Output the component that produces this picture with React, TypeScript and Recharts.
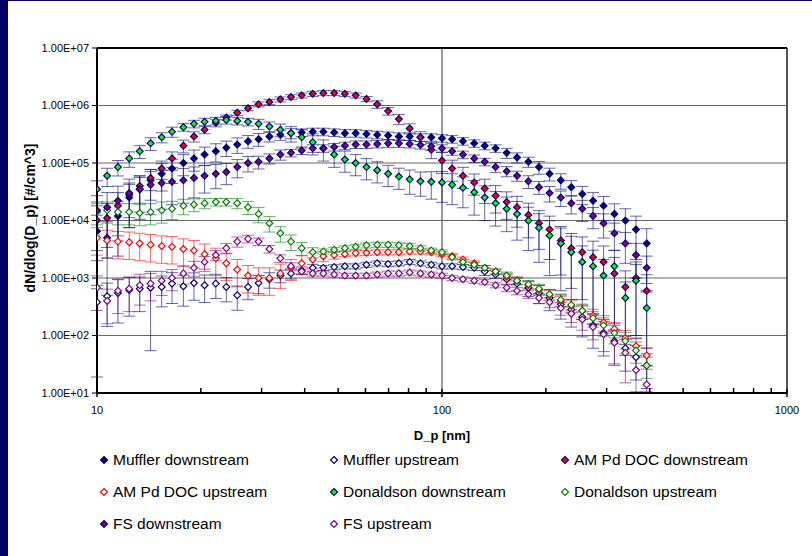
import React from 'react';
import { ScatterChart, Scatter, XAxis, YAxis, CartesianGrid, ErrorBar, ReferenceLine, Label } from 'recharts';

// particle diameters, nm
const diameters = [
  10.0, 10.7, 11.5, 12.4, 13.3, 14.3, 15.4, 16.5, 17.8, 19.1, 20.5, 22.1, 23.7, 25.5, 27.4, 29.4,
  31.6, 34.0, 36.5, 39.2, 42.2, 45.3, 48.7, 52.3, 56.2, 60.4, 64.9, 69.8, 75.0, 80.6, 86.6, 93.1,
  100, 107, 115, 124, 133, 143, 154, 165, 178, 191, 205, 221, 237, 255, 274, 294, 316, 340, 365, 392,
];

const mufflerDown = [
  6.5e3, 5e3, 1.2e4, 2.5e4, 3.5e4, 5e4, 6.5e4, 8e4, 1.0e5, 1.2e5, 1.4e5, 1.6e5, 1.85e5, 2.1e5, 2.4e5, 2.6e5,
  2.9e5, 3.1e5, 3.3e5, 3.4e5, 3.5e5, 3.5e5, 3.4e5, 3.3e5, 3.3e5, 3.2e5, 3.1e5, 3.0e5, 2.9e5, 2.9e5, 2.8e5, 2.8e5,
  2.7e5, 2.6e5, 2.4e5, 2.2e5, 2.0e5, 1.8e5, 1.5e5, 1.25e5, 1.05e5, 8.5e4, 6.5e4, 5e4, 3.8e4, 2.9e4, 2.2e4, 1.8e4,
  1.3e4, 1.0e4, 7e3, 4e3,
];
const mufflerUp = [
  380, 480, 550, 620, 650, 680, 700, 800, 720, 820, 750, 800, 700, 500, 700, 820,
  950, 1.1e3, 1.2e3, 1.35e3, 1.5e3, 1.5e3, 1.55e3, 1.6e3, 1.6e3, 1.7e3, 1.8e3, 1.75e3, 1.8e3, 1.9e3, 1.8e3, 1.7e3,
  1.6e3, 1.6e3, 1.55e3, 1.5e3, 1.3e3, 1.15e3, 950, 800, 680, 550, 450, 350, 280, 210, 150, 110,
  80, 60, 42, 30,
];
const amPdDown = [
  1.0e4, 1.1e4, 1.8e4, 2.8e4, 4e4, 5.5e4, 8e4, 1.2e5, 2.0e5, 2.9e5, 3.8e5, 5e5, 6.2e5, 7.5e5, 9e5, 1.05e6,
  1.15e6, 1.28e6, 1.4e6, 1.5e6, 1.6e6, 1.65e6, 1.65e6, 1.6e6, 1.5e6, 1.3e6, 1.05e6, 8e5, 5.8e5, 4e5, 2.8e5, 1.7e5,
  1.1e5, 8e4, 6e4, 4.6e4, 3.6e4, 2.7e4, 2.1e4, 1.7e4, 1.25e4, 9e3, 7e3, 4.5e3, 3.3e3, 2.8e3, 2.3e3, 1.9e3,
  1.2e3, 700, 1e3, 600,
];
const amPdUp = [
  5e3, 4.5e3, 4.3e3, 4.2e3, 4e3, 3.8e3, 3.6e3, 3.5e3, 3.2e3, 3.0e3, 2.6e3, 2.2e3, 1.8e3, 1.4e3, 1.1e3, 1.0e3,
  1.0e3, 1.2e3, 1.5e3, 1.8e3, 2.1e3, 2.4e3, 2.5e3, 2.6e3, 2.7e3, 2.75e3, 2.8e3, 2.8e3, 2.8e3, 2.9e3, 2.9e3, 2.8e3,
  2.6e3, 2.4e3, 2.1e3, 1.8e3, 1.5e3, 1.3e3, 1.05e3, 900, 750, 620, 500, 400, 330, 270, 220, 170,
  130, 90, 65, 45,
];
const donaldsonDown = [
  3.5e4, 6e4, 8.5e4, 1.2e5, 1.6e5, 2.2e5, 2.8e5, 3.5e5, 4.2e5, 4.8e5, 5.2e5, 5.4e5, 5.6e5, 5.4e5, 5.2e5, 4.8e5,
  4.3e5, 3.8e5, 3.3e5, 2.8e5, 2.3e5, 1.8e5, 1.4e5, 1.15e5, 1.0e5, 8.5e4, 7.5e4, 6.5e4, 5.8e4, 5.2e4, 4.8e4, 4.7e4,
  4.6e4, 4.2e4, 3.7e4, 3.1e4, 2.5e4, 2.0e4, 1.6e4, 1.3e4, 1.0e4, 7.5e3, 5.5e3, 4e3, 2.8e3, 1.9e3, 1.6e3, 1.1e3,
  1.6e3, 450, 900, 300,
];
const donaldsonUp = [
  1.4e4, 1.5e4, 1.4e4, 1.4e4, 1.35e4, 1.4e4, 1.5e4, 1.6e4, 1.8e4, 1.9e4, 2.0e4, 2.1e4, 2.1e4, 2.0e4, 1.7e4, 1.3e4,
  9e3, 6e3, 4.3e3, 3.3e3, 2.8e3, 2.9e3, 3.1e3, 3.3e3, 3.5e3, 3.7e3, 3.8e3, 3.8e3, 3.7e3, 3.6e3, 3.3e3, 3.0e3,
  2.8e3, 2.3e3, 1.9e3, 1.7e3, 1.5e3, 1.3e3, 1.1e3, 900, 780, 650, 520, 420, 340, 270, 200, 150,
  110, 80, 55, 30,
];
const fsDown = [
  1.5e4, 1.7e4, 2.2e4, 3e4, 3.5e4, 4.2e4, 4.5e4, 4.7e4, 5e4, 5.5e4, 6e4, 6.5e4, 7e4, 8.5e4, 1e5, 1.05e5,
  1.2e5, 1.4e5, 1.5e5, 1.65e5, 1.8e5, 1.8e5, 1.9e5, 2e5, 2.1e5, 2.1e5, 2.15e5, 2.2e5, 2.2e5, 2.15e5, 2.05e5, 1.95e5,
  1.8e5, 1.6e5, 1.4e5, 1.2e5, 1.05e5, 8.5e4, 7.2e4, 6e4, 4.8e4, 3.8e4, 3e4, 2.5e4, 2e4, 1.6e4, 1.2e4, 9e3,
  6e3, 4e3, 2.5e3, 1.5e3,
];
const fsUp = [
  680, 400, 600, 650, 750, 800, 900, 1.0e3, 1.2e3, 1.5e3, 1.9e3, 2.5e3, 3.3e3, 4.3e3, 4.8e3, 4.3e3,
  3.2e3, 2.2e3, 1.6e3, 1.3e3, 1.2e3, 1.2e3, 1.15e3, 1.1e3, 1.1e3, 1.1e3, 1.15e3, 1.2e3, 1.2e3, 1.25e3, 1.2e3, 1.15e3,
  1.1e3, 1.0e3, 950, 900, 850, 750, 680, 600, 520, 450, 380, 300, 240, 190, 140, 105,
  75, 50, 25, 14,
];

// error bars, % of value
const mufflerDownErr = [
  90, 90, 80, 70, 60, 55, 50, 45, 40, 40, 35, 35, 30, 30, 25, 25, 20, 20, 20, 15, 15, 15, 15, 15, 15, 15,
  15, 15, 15, 15, 15, 15, 15, 15, 15, 15, 15, 15, 20, 20, 20, 25, 25, 30, 30, 35, 40, 45, 50, 60, 70, 80,
];
const mufflerUpErr = [
  96, 70, 70, 65, 60, 92, 55, 55, 55, 50, 50, 45, 45, 45, 40, 35, 30, 25, 20, 15, 15, 10, 10, 10, 10, 10,
  10, 10, 10, 10, 10, 10, 10, 10, 10, 10, 15, 15, 20, 25, 30, 35, 40, 45, 50, 55, 60, 60, 60, 60, 60, 60,
];
const amPdDownErr = [
  80, 80, 70, 60, 50, 40, 35, 30, 25, 20, 15, 15, 10, 10, 10, 10, 10, 10, 10, 10, 10, 10, 10, 10, 10, 10,
  15, 15, 20, 20, 25, 30, 40, 40, 40, 40, 45, 50, 50, 55, 60, 65, 70, 75, 80, 85, 90, 90, 90, 90, 90, 90,
];
const amPdUpErr = [
  50, 50, 50, 50, 50, 50, 50, 50, 50, 50, 50, 50, 50, 50, 50, 50, 50, 45, 40, 35, 30, 20, 15, 10, 10, 10,
  10, 10, 10, 10, 10, 10, 10, 10, 10, 10, 10, 10, 15, 15, 15, 20, 20, 20, 25, 25, 30, 30, 30, 35, 35, 35,
];
const donaldsonDownErr = [
  40, 35, 30, 30, 25, 25, 20, 20, 15, 15, 15, 15, 15, 15, 15, 20, 20, 25, 30, 35, 40, 40, 40, 40, 40, 40,
  40, 40, 40, 45, 45, 50, 55, 55, 55, 60, 60, 60, 60, 65, 70, 75, 80, 85, 90, 90, 90, 90, 90, 90, 90, 90,
];
const donaldsonUpErr = [
  40, 40, 40, 40, 40, 40, 40, 35, 30, 25, 20, 15, 15, 20, 25, 30, 30, 30, 30, 25, 20, 10, 10, 10, 10, 10,
  10, 10, 10, 10, 10, 10, 10, 10, 10, 10, 10, 10, 15, 15, 15, 20, 20, 25, 25, 30, 30, 35, 35, 40, 40, 40,
];
const fsDownErr = [
  80, 80, 80, 75, 70, 70, 65, 60, 60, 55, 50, 45, 40, 35, 30, 25, 20, 20, 15, 15, 15, 15, 15, 15, 15, 15,
  15, 15, 15, 15, 15, 15, 15, 15, 15, 15, 15, 20, 20, 20, 25, 25, 30, 30, 35, 40, 40, 45, 50, 55, 60, 60,
];
const fsUpErr = [
  60, 60, 60, 60, 55, 50, 45, 40, 35, 30, 25, 20, 20, 20, 15, 15, 15, 15, 15, 10, 10, 10, 10, 10, 10, 10,
  10, 10, 10, 10, 10, 10, 10, 10, 10, 10, 10, 10, 15, 15, 15, 20, 20, 25, 30, 35, 40, 50, 60, 70, 80, 85,
];

const yTicks = [1e1, 1e2, 1e3, 1e4, 1e5, 1e6, 1e7];
const xTicks = [10, 20, 30, 40, 50, 60, 70, 80, 90, 100, 200, 300, 400, 500, 600, 700, 800, 900, 1000];
const xMajor = [10, 100, 1000];

const NAVY = '#000080';
const FONT = '"Liberation Sans", Arial, sans-serif';
const Y_MIN = 10;

// lower whisker stops at the bottom of the plot
const build = (vals: number[], errs: number[]) =>
  vals.map((y, i) => {
    const e = (y * errs[i]) / 100;
    return { x: diameters[i], y, err: [Math.min(e, y * 0.95, y - Y_MIN * 1.05), e] };
  });

const series = [
  { name: 'Muffler downstream', data: build(mufflerDown, mufflerDownErr), fill: NAVY, stroke: NAVY, bar: NAVY },
  { name: 'Muffler upstream', data: build(mufflerUp, mufflerUpErr), fill: '#fff', stroke: NAVY, bar: NAVY },
  { name: 'AM Pd DOC downstream', data: build(amPdDown, amPdDownErr), fill: '#ff0000', stroke: NAVY, bar: NAVY },
  { name: 'AM Pd DOC upstream', data: build(amPdUp, amPdUpErr), fill: '#fff', stroke: '#ff0000', bar: '#ff0000' },
  { name: 'Donaldson downstream', data: build(donaldsonDown, donaldsonDownErr), fill: '#00ff00', stroke: NAVY, bar: NAVY },
  { name: 'Donaldson upstream', data: build(donaldsonUp, donaldsonUpErr), fill: '#fff', stroke: '#008000', bar: '#008000' },
  { name: 'FS downstream', data: build(fsDown, fsDownErr), fill: '#800080', stroke: NAVY, bar: NAVY },
  { name: 'FS upstream', data: build(fsUp, fsUpErr), fill: '#fff', stroke: '#800080', bar: '#800080' },
];

const diamond = (fill: string, stroke: string) => (p: any) => {
  const { cx, cy } = p;
  if (cx == null || cy == null) return <g />;
  const r = 3.4;
  return (
    <polygon
      points={`${cx},${cy - r} ${cx + r},${cy} ${cx},${cy + r} ${cx - r},${cy}`}
      fill={fill}
      stroke={stroke}
      strokeWidth={1.2}
    />
  );
};

const fmtY = (v: number) => v.toExponential(2).toUpperCase().replace(/E\+(\d)$/, 'E+0$1');

const XTick = (props: any) => {
  const { x, y, payload } = props;
  const v = payload.value;
  const major = xMajor.includes(v);
  return (
    <g>
      {major ? (
        <line x1={x} x2={x} y1={y - 4} y2={y + 4} stroke="#000" strokeWidth={1.5} />
      ) : (
        <line x1={x} x2={x} y1={y} y2={y - 5} stroke="#000" strokeWidth={1.5} />
      )}
      {major && (
        <text x={x} y={y + 21} textAnchor="middle" fontSize={11} fontFamily={FONT} fill="#000">
          {v}
        </text>
      )}
    </g>
  );
};

const legendCols = [104, 334, 565];
const legendRows = [460, 492, 524];

export default function App() {
  return (
    <div style={{ position: 'absolute', left: 0, top: 0, width: 812, height: 556, background: '#fff', fontFamily: FONT }}>
      <div style={{ position: 'absolute', left: 0, top: 0, width: 8, height: 556, background: '#000066' }} />
      <div style={{ position: 'absolute', left: 0, top: 0, width: 812, height: 1, background: '#000066' }} />
      <div style={{ position: 'absolute', left: 0, top: 0 }}>
        <ScatterChart width={812} height={556} margin={{ top: 48, right: 25, bottom: 113, left: 0 }}>
          <CartesianGrid vertical={false} stroke="#666" />
          <XAxis
            type="number"
            dataKey="x"
            scale="log"
            domain={[10, 1000]}
            allowDataOverflow
            ticks={xTicks}
            interval={0}
            tick={<XTick />}
            tickLine={false}
            tickSize={0}
            tickMargin={0}
            height={50}
            axisLine={{ stroke: '#000', strokeWidth: 2 }}
          >
            <Label value="D_p [nm]" position="insideBottom" offset={3} style={{ fontSize: 13, fontWeight: 'bold', fontFamily: FONT, fill: '#000' }} />
          </XAxis>
          <YAxis
            type="number"
            dataKey="y"
            scale="log"
            domain={[Y_MIN, 1e7]}
            allowDataOverflow
            ticks={yTicks}
            interval={0}
            tickFormatter={fmtY}
            width={97}
            tickSize={5}
            tickMargin={3}
            tick={{ fontSize: 11, fill: '#000', fontFamily: FONT }}
            tickLine={{ stroke: '#000' }}
            axisLine={{ stroke: '#000', strokeWidth: 2 }}
          />
          <ReferenceLine x={100} stroke="#777" strokeWidth={1.5} />
          <ReferenceLine x={1000} stroke="#555" strokeWidth={2} />
          <ReferenceLine y={1e7} stroke="#000" strokeWidth={2} />
          {series.map((s) => (
            <Scatter key={s.name} name={s.name} data={s.data} isAnimationActive={false} shape={diamond(s.fill, s.stroke)}>
              <ErrorBar dataKey="err" direction="y" width={6} stroke={s.bar} strokeWidth={1} strokeOpacity={0.6} />
            </Scatter>
          ))}
        </ScatterChart>
      </div>
      <div
        style={{
          position: 'absolute',
          left: 30,
          top: 218,
          transform: 'translate(-50%, -50%) rotate(-90deg)',
          whiteSpace: 'nowrap',
          fontSize: 14,
          fontWeight: 'bold',
          color: '#000',
        }}
      >
        dN/dlog(D_p) [#/cm^3]
      </div>
      {series.map((s, i) => (
        <div
          key={s.name}
          style={{
            position: 'absolute',
            left: legendCols[i % 3] - 5,
            top: legendRows[Math.floor(i / 3)] - 10,
            height: 20,
            display: 'flex',
            alignItems: 'center',
            fontSize: 15.5,
            color: '#000',
            whiteSpace: 'nowrap',
          }}
        >
          <svg width={10} height={10} style={{ marginRight: 4 }}>
            <polygon points="5,1.5 8.5,5 5,8.5 1.5,5" fill={s.fill} stroke={s.stroke} strokeWidth={1.2} />
          </svg>
          {s.name}
        </div>
      ))}
    </div>
  );
}
